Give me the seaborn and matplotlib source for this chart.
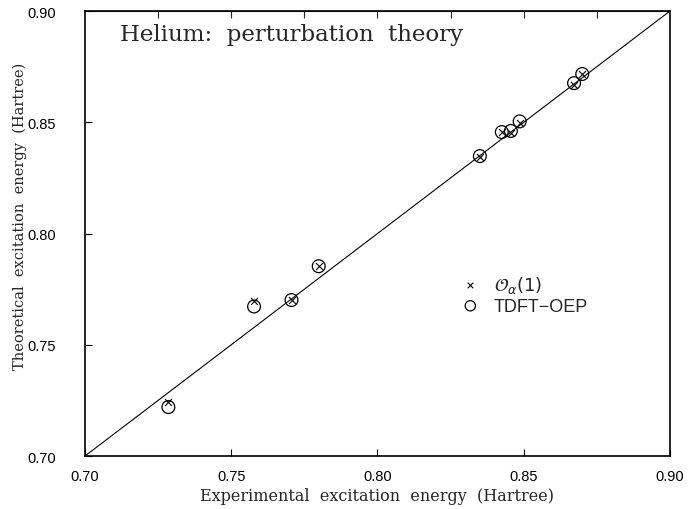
import matplotlib
matplotlib.use("Agg")
import matplotlib.pyplot as plt
import numpy as np
import pandas as pd
import seaborn as sns

# Helium excitation energies (Hartree)
experimental = [0.7285, 0.7578, 0.7706, 0.7799, 0.8350, 0.8425, 0.8456, 0.8486, 0.8672, 0.8700]
pert_theory = [0.7243, 0.7695, 0.7701, 0.7855, 0.8345, 0.8456, 0.8454, 0.8497, 0.8667, 0.8717]
tdft_oep = [0.7220, 0.7672, 0.7701, 0.7853, 0.8348, 0.8456, 0.8461, 0.8504, 0.8676, 0.8717]

d = pd.DataFrame({
    "exp": experimental * 2,
    "theory": pert_theory + tdft_oep,
    "method": ["pt"] * len(experimental) + ["oep"] * len(experimental),
})

sns.set_style("ticks")
plt.rcParams["font.family"] = ["Liberation Sans", "DejaVu Sans"]

fig = plt.figure(figsize=(6.9, 5.1), dpi=100)
ax = fig.add_axes([0.1232, 0.1039, 0.8478, 0.8725])

# diagonal y = x
ax.axline((0.70, 0.70), slope=1, color="black", linewidth=0.8, zorder=1)

sns.scatterplot(data=d[d["method"] == "pt"], x="exp", y="theory", marker="x",
                color="black", s=25, linewidth=0.8, ax=ax, label=r"$\mathcal{O}_{\alpha}(1)$", zorder=3)
sns.scatterplot(data=d[d["method"] == "oep"], x="exp", y="theory", marker="o",
                facecolor="none", edgecolor="black", s=85, linewidth=0.9, ax=ax,
                label="TDFT\u2212OEP", zorder=3)

ax.set_xlim(0.70, 0.90)
ax.set_ylim(0.70, 0.90)
ticks = [0.70, 0.75, 0.80, 0.85, 0.90]
ax.set_xticks(ticks)
ax.set_yticks(ticks)
ax.set_xticklabels([f"{t:.2f}" for t in ticks])
ax.set_yticklabels([f"{t:.2f}" for t in ticks])
ax.tick_params(direction="in", length=5, width=0.8, labelsize=10.5, colors="black")
ax.tick_params(axis="x", pad=9)
ax.tick_params(axis="y", pad=21)

top = ax.secondary_xaxis("top")
top.set_xticks(np.arange(0.725, 0.876, 0.025))
top.tick_params(direction="in", length=5, width=0.8, labeltop=False)

for s in ax.spines.values():
    s.set_linewidth(1.2)
    s.set_color("black")
    s.set_visible(True)

ax.set_xlabel("Experimental  excitation  energy  (Hartree)", family="DejaVu Serif", fontsize=11.5, labelpad=3)
ax.set_ylabel("Theoretical  excitation  energy  (Hartree)", family="DejaVu Serif", fontsize=10.5, labelpad=3)
ax.yaxis.set_label_coords(-0.1, 0.54)
ax.text(0.06, 0.948, "Helium:  perturbation  theory", transform=ax.transAxes,
        family="DejaVu Serif", fontsize=16.5, va="center", ha="left")

ax.legend(loc="upper left", bbox_to_anchor=(0.60, 0.446), frameon=False, fontsize=13,
          handletextpad=0.3, labelspacing=0.15, markerscale=0.8)

fig.savefig("out.png", dpi=100)
